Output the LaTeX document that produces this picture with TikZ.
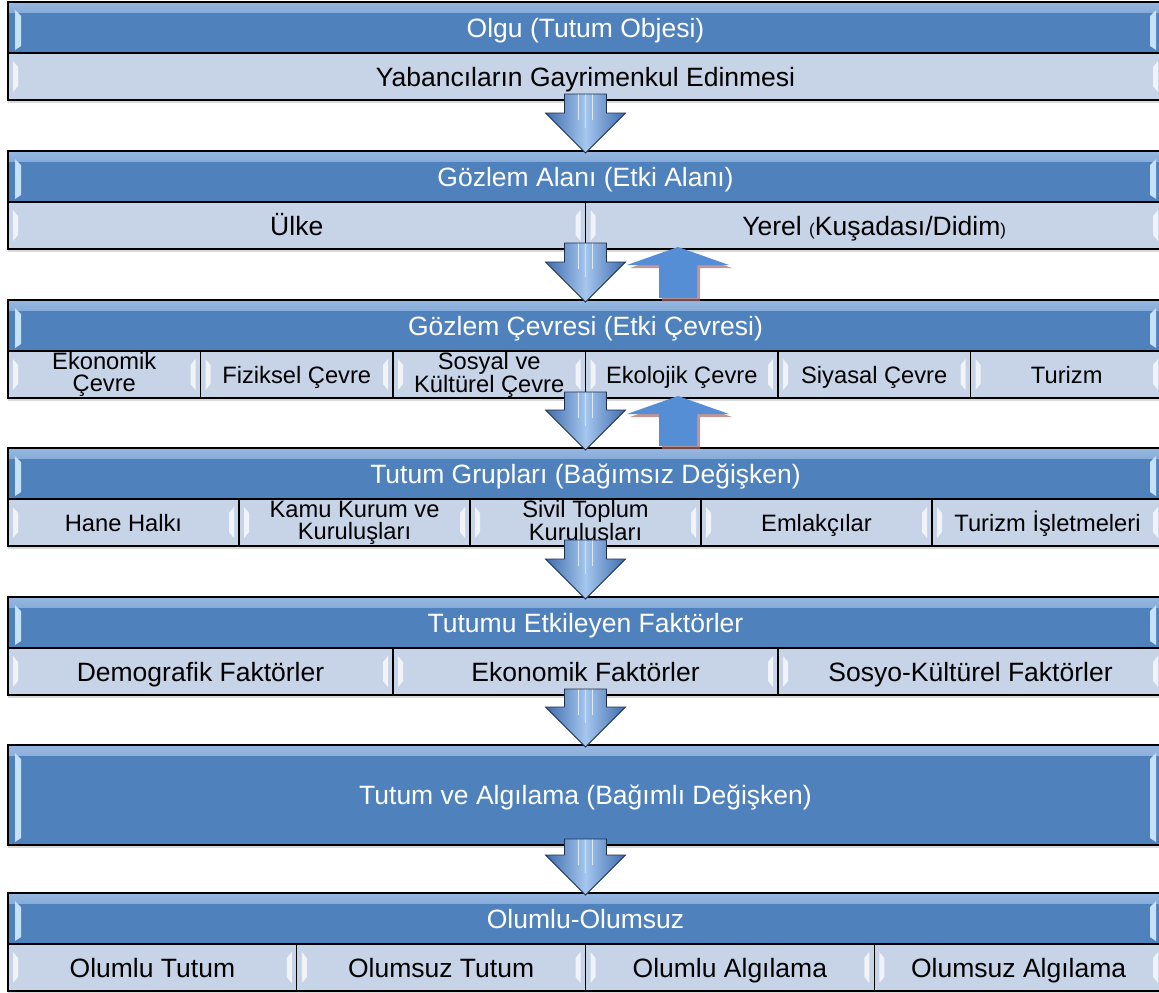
\documentclass[tikz,border=0pt]{standalone}
\usepackage{fontspec}
\setmainfont{Liberation Sans}
\usetikzlibrary{shadows, calc}

\definecolor{hdrblue}{RGB}{79,129,189}
\definecolor{hdrtop}{RGB}{150,183,224}
\definecolor{hdrglint}{RGB}{200,225,250}
\definecolor{cellblue}{RGB}{199,211,231}
\definecolor{arrowdark}{RGB}{62,108,172}
\definecolor{arrowlight}{RGB}{165,198,238}
\definecolor{arrowline}{RGB}{30,48,78}
\definecolor{upblue}{RGB}{85,142,213}
\definecolor{shadowred}{RGB}{165,105,105}

\newcommand{\fsbig}{\fontsize{26.5}{29}\selectfont}
\newcommand{\fssmall}{\fontsize{23.7}{22}\selectfont}
\newcommand{\fsparen}{\fontsize{17}{20}\selectfont}

% block arrow from the bottom of one block to the top of the next
\newcommand{\flowdown}[2]{%
  \path[flowarrow] ($(#1)+(-21,-6)$) -- ($(#1)+(21,-6)$) -- ($(#2)+(21,-38)$)
    -- ($(#2)+(40,-38)$) -- ($(#2)+(0,2)$) -- ($(#2)+(-40,-38)$)
    -- ($(#2)+(-21,-38)$) -- cycle;}
% upward arrow, tip under #1, foot on #2
\newcommand{\flowup}[2]{%
  \path[uparrow] ($(#1 -| gerix)+(0,-2)$) -- ++(51,18) -- ++(-32,0)
    -- ($(#2 -| gerix)+(19,-2)$) -- ++(-38,0) -- ($(#1 -| gerix)+(-19,16)$)
    -- ++(-32,0) -- cycle;}

\begin{document}
\begin{tikzpicture}[x=1pt, y=-1pt,
  hdr/.style={draw, line width=1.2pt, fill=hdrblue, text=white, font=\fsbig,
    text height=24pt, text depth=5pt,
    minimum width=1155pt, minimum height=51pt, inner sep=0pt, outer sep=0pt,
    anchor=north west, drop shadow={shadow xshift=0pt, shadow yshift=-3pt, opacity=.3},
    path picture={
      \shade[top color=hdrtop, bottom color=hdrblue] (path picture bounding box.north west)
        rectangle ($(path picture bounding box.north east)+(0,10)$);
      \fill[hdrglint] ($(path picture bounding box.north west)+(7,8)$) -- ++(6,6)
        -- ($(path picture bounding box.south west)+(13,-7)$) -- ++(-6,4) -- cycle;
      \fill[hdrglint] ($(path picture bounding box.north east)+(-7,8)$) -- ++(-6,6)
        -- ($(path picture bounding box.south east)+(-13,-7)$) -- ++(6,4) -- cycle;}},
  cell/.style={draw, line width=1.2pt, fill=cellblue, font=\fsbig, align=center,
    text height=25pt, text depth=5pt,
    minimum height=47pt, inner sep=0pt, outer sep=0pt, anchor=north west,
    drop shadow={shadow xshift=0pt, shadow yshift=-3pt, opacity=.3},
    path picture={
      \fill[white, opacity=.75] ($(path picture bounding box.north west)+(5,8)$) -- ++(5,6)
        -- ($(path picture bounding box.south west)+(10,-14)$) -- ++(-5,6) -- cycle;
      \fill[white, opacity=.75] ($(path picture bounding box.north east)+(-5,8)$) -- ++(-5,6)
        -- ($(path picture bounding box.south east)+(-10,-14)$) -- ++(5,6) -- cycle;}},
  cellsm/.style={cell, font=\fssmall, text height=22pt, text depth=5pt},
  twoline/.style={text height=, text depth=},
  flowarrow/.style={draw=arrowline, line width=.8pt,
    left color=arrowdark, right color=arrowdark, middle color=arrowlight,
    path picture={
      \draw[white, opacity=.7, line width=1.5pt] ($(path picture bounding box.north)+(-7,0)$) -- ++(0,26);
      \draw[white, opacity=.7, line width=1.5pt] ($(path picture bounding box.north)+(7,0)$) -- ++(0,26);
      \draw[white, opacity=.5, line width=1pt] (path picture bounding box.north) -- ++(0,34);}},
  uparrow/.style={fill=upblue,
    drop shadow={shadow xshift=3pt, shadow yshift=-3pt, fill=shadowred, opacity=.7}}]

\clip (0,0) rectangle (1159,993);

% olgu
\node[hdr]  (olguhdr) at (8,2) {Olgu (Tutum Objesi)};
\node[cell, minimum width=1155pt] (olgusub) at (olguhdr.south west) {Yabancıların Gayrimenkul Edinmesi};

% gozlem alani
\node[hdr]  (alanhdr) at (8,151) {Gözlem Alanı (Etki Alanı)};
\node[cell, minimum width=577.5pt] (ulke)  at (alanhdr.south west) {Ülke};
\node[cell, minimum width=577.5pt] (yerel) at (ulke.north east)
  {Yerel {\fsparen(}Kuşadası/Didim{\fsparen)}};

% gozlem cevresi
\node[hdr]  (cevrehdr) at (8,300) {Gözlem Çevresi (Etki Çevresi)};
\node[cellsm, twoline, minimum width=192.5pt] (ekonomik) at (cevrehdr.south west) {Ekonomik\\Çevre};
\node[cellsm, minimum width=192.5pt] (fiziksel) at (ekonomik.north east) {Fiziksel Çevre};
\node[cellsm, twoline, minimum width=192.5pt] (sosyal) at (fiziksel.north east) {Sosyal ve\\Kültürel Çevre};
\node[cellsm, minimum width=192.5pt] (ekolojik) at (sosyal.north east)   {Ekolojik Çevre};
\node[cellsm, minimum width=192.5pt] (siyasal)  at (ekolojik.north east) {Siyasal Çevre};
\node[cellsm, minimum width=192.5pt] (turizm)   at (siyasal.north east)  {Turizm};

% tutum gruplari
\node[hdr]  (grupshdr) at (8,448) {Tutum Grupları (Bağımsız Değişken)};
\node[cellsm, minimum width=231pt] (hane)  at (grupshdr.south west) {Hane Halkı};
\node[cellsm, twoline, minimum width=231pt] (kamu)  at (hane.north east) {Kamu Kurum ve\\Kuruluşları};
\node[cellsm, twoline, minimum width=231pt] (sivil) at (kamu.north east) {Sivil Toplum\\Kuruluşları};
\node[cellsm, minimum width=231pt] (emlak)   at (sivil.north east) {Emlakçılar};
\node[cellsm, minimum width=231pt] (isletme) at (emlak.north east) {Turizm İşletmeleri};

% faktorler
\node[hdr]  (faktorhdr) at (8,597) {Tutumu Etkileyen Faktörler};
\node[cell, minimum width=385pt] (demografik) at (faktorhdr.south west) {Demografik Faktörler};
\node[cell, minimum width=385pt] (ekonomikf)  at (demografik.north east) {Ekonomik Faktörler};
\node[cell, minimum width=385pt] (sosyokult)  at (ekonomikf.north east)  {Sosyo-Kültürel Faktörler};

% tutum ve algilama
\node[hdr, minimum height=100pt] (algihdr) at (8,745) {Tutum ve Algılama (Bağımlı Değişken)};

% olumlu-olumsuz
\node[hdr]  (sonuchdr) at (8,893) {Olumlu-Olumsuz};
\node[cell, minimum width=288.75pt] (olumlututum)  at (sonuchdr.south west)   {Olumlu Tutum};
\node[cell, minimum width=288.75pt] (olumsuztutum) at (olumlututum.north east)  {Olumsuz Tutum};
\node[cell, minimum width=288.75pt] (olumlualgi)   at (olumsuztutum.north east) {Olumlu Algılama};
\node[cell, minimum width=288.75pt] (olumsuzalgi)  at (olumlualgi.north east)   {Olumsuz Algılama};

% flow arrows between the blocks
\flowdown{olgusub.south}{alanhdr.north}
\flowdown{ulke.south east}{cevrehdr.north}
\flowdown{sosyal.south east}{grupshdr.north}
\flowdown{sivil.south}{faktorhdr.north}
\flowdown{ekonomikf.south}{algihdr.north}
\flowdown{algihdr.south}{sonuchdr.north}

% feedback arrows
\coordinate (gerix) at (678,0);
\flowup{yerel.south}{cevrehdr.north}
\flowup{ekolojik.south}{grupshdr.north}

\end{tikzpicture}
\end{document}
